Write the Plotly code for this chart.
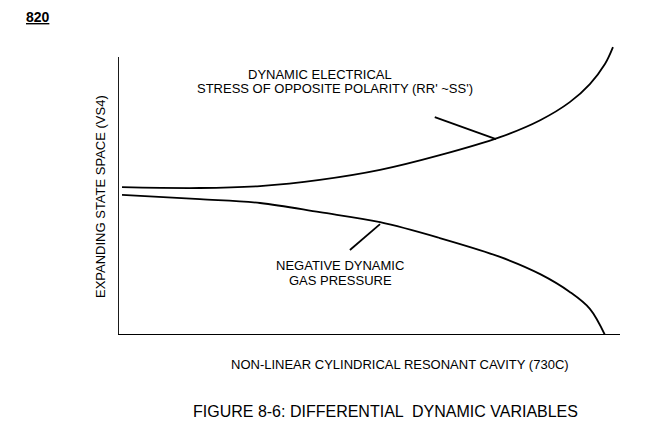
import plotly.graph_objects as go

# curve readings (x: 0-100 along cavity, y: 0-104 state space)
x_stress = [0.8, 16.3, 28.3, 40.2, 52.2, 64.1, 76.1, 84.1, 90.0, 94.0, 97.0, 98.6]
y_stress = [53.2, 52.9, 53.6, 55.8, 59.4, 64.7, 71.2, 77.3, 83.8, 90.3, 97.5, 103.6]
x_gas = [0.8, 16.3, 28.3, 40.2, 52.2, 64.1, 76.1, 84.1, 90.0, 94.0, 97.0]
y_gas = [50.4, 48.9, 47.5, 44.2, 40.6, 34.9, 28.1, 21.9, 15.5, 9.4, 0.0]

W, H = 657, 427
DX, DY = 8, 6  # page offset seen in render
L, R, T, B = 118 - DX, 620 - DX, 44 - DY, 333 - DY


def px(x, y):
    return (x - DX - L) / (R - L), (B - (y - DY)) / (B - T)


fig = go.Figure()
fig.add_trace(go.Scatter(x=x_stress, y=y_stress, mode="lines", line=dict(color="black", width=1.8, shape="spline")))
fig.add_trace(go.Scatter(x=x_gas, y=y_gas, mode="lines", line=dict(color="black", width=1.8, shape="spline")))

# axes lines
fig.add_shape(type="line", x0=0, x1=0, y0=0, y1=100, line=dict(color="black", width=1.8))
fig.add_shape(type="line", x0=0, x1=100, y0=0, y1=0, line=dict(color="black", width=1.8))
# leader lines
fig.add_shape(type="line", x0=63.1, y0=78.4, x1=75.3, y1=70.5, line=dict(color="black", width=1.8))
fig.add_shape(type="line", x0=46.2, y0=30.6, x1=52.2, y1=39.9, line=dict(color="black", width=1.8))

f = dict(family="Liberation Sans, Arial", size=13, color="black")
texts = [
    (320, 72, "DYNAMIC ELECTRICAL", 0, 13),
    (335, 86, "STRESS OF OPPOSITE POLARITY (RR' ~SS')", 0, 13),
    (340, 263, "NEGATIVE DYNAMIC", 0, 13),
    (340, 278, "GAS PRESSURE", 0, 13),
    (400, 362, "NON-LINEAR CYLINDRICAL RESONANT CAVITY (730C)", 0, 13),
    (100, 195, "EXPANDING STATE SPACE (VS4)", -90, 13),
    (385, 410, "FIGURE 8-6: DIFFERENTIAL  DYNAMIC VARIABLES", 0, 16),
    (38, 15, "<b><u>820</u></b>", 0, 14),
]
for x, y, t, ang, s in texts:
    xp, yp = px(x, y)
    fig.add_annotation(x=xp, y=yp, xref="paper", yref="paper", text=t, showarrow=False,
                       textangle=ang, font=dict(f, size=s), xanchor="center", yanchor="middle")

fig.update_layout(
    width=W, height=H, showlegend=False,
    margin=dict(l=L, r=W - R, t=T, b=H - B),
    plot_bgcolor="white", paper_bgcolor="white",
    xaxis=dict(range=[0, 100], visible=False),
    yaxis=dict(range=[0, 104], visible=False),
)
fig.write_html("out.html")
